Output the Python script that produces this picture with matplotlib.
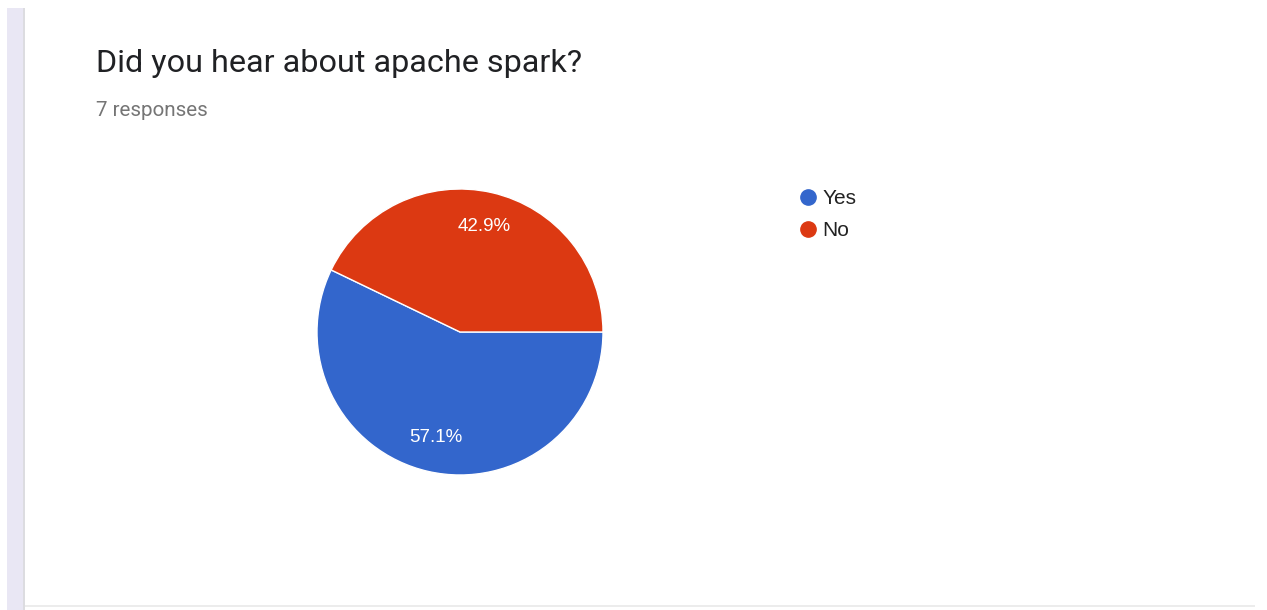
import matplotlib.pyplot as plt
from matplotlib.lines import Line2D
from matplotlib.patches import Rectangle

# survey answers
labels = ['Yes', 'No']
counts = [4, 3]
colors = ['#3366cc', '#dc3912']

title = 'Did you hear about apache spark?'
subtitle = '7 responses'

W, H = 1267, 610
fig = plt.figure(figsize=(W / 100, H / 100), dpi=100)
fig.patch.set_facecolor('white')
plt.rcParams['font.family'] = ['Roboto', 'DejaVu Sans']

# card border on the left and bottom
fig.patches.append(Rectangle((7 / W, 0), 16 / W, 1 - 8 / H, transform=fig.transFigure,
                             facecolor='#e9e7f4', edgecolor='none'))
fig.patches.append(Rectangle((23 / W, 0), 2 / W, 1 - 8 / H, transform=fig.transFigure,
                             facecolor='#dcdce0', edgecolor='none'))
fig.patches.append(Rectangle((25 / W, 3 / H), 1230 / W, 2 / H, transform=fig.transFigure,
                             facecolor='#ececec', edgecolor='none'))

fig.text(96 / W, 1 - 72 / H, title, fontsize=23.3, color='#202124', va='baseline')
fig.text(96 / W, 1 - 116 / H, subtitle, fontsize=14.9, color='#757575', va='baseline')

# pie
cx, cy, r = 460, 332, 143
ax = fig.add_axes([(cx - r) / W, (H - cy - r) / H, 2 * r / W, 2 * r / H])
wedges, texts, autotexts = ax.pie(counts, colors=colors, startangle=0, counterclock=False,
                                  autopct='%1.1f%%', pctdistance=0.76,
                                  wedgeprops=dict(edgecolor='white', linewidth=1),
                                  textprops=dict(color='white', fontsize=13.5,
                                                 family=['Liberation Sans', 'DejaVu Sans']))
ax.set_xlim(-1, 1)
ax.set_ylim(-1, 1)
ax.set_aspect('auto')
ax.axis('off')

handles = [Line2D([], [], marker='o', linestyle='none', markersize=11,
                  markerfacecolor=c, markeredgecolor=c) for c in colors]
fig.legend(handles, labels, loc='upper left', bbox_to_anchor=(800 / W, 1 - 189 / H),
           frameon=False, labelcolor='#222222',
           prop=dict(family=['Liberation Sans', 'DejaVu Sans'], size=15),
           handletextpad=0.27, labelspacing=0.62, handlelength=0.8,
           borderaxespad=0, borderpad=0)

fig.savefig('out.png', dpi=100)
